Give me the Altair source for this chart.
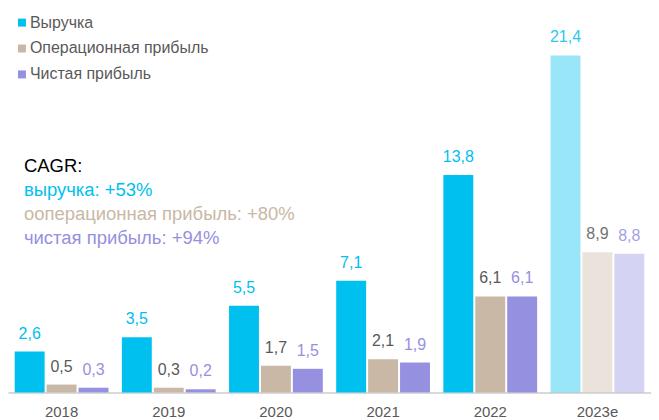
import altair as alt
import pandas as pd

years = ["2018", "2019", "2020", "2021", "2022", "2023e"]
series = ["Выручка", "Операционная прибыль", "Чистая прибыль"]
revenue = [2.6, 3.5, 5.5, 7.1, 13.8, 21.4]
op_profit = [0.5, 0.3, 1.7, 2.1, 6.1, 8.9]
net_profit = [0.3, 0.2, 1.5, 1.9, 6.1, 8.8]
cagr_lines = ["CAGR:", "выручка: +53%", "оопер\u0430ционная прибыль: +80%", "чистая прибыль: +94%"]
cagr_kind = ["title", "Выручка", "Операционная прибыль", "Чистая прибыль"]

bar_colors = ["#00C0F0", "#C9B8A5", "#9690E0"]
label_colors = ["#00C0F0", "#595959", "#9690E0"]

rows = []
for i, y in enumerate(years):
    for s, vals in zip(series, [revenue, op_profit, net_profit]):
        rows.append({"year": y, "series": s, "value": vals[i]})
df = pd.DataFrame(rows)

cagr_df = pd.DataFrame({"text": cagr_lines, "kind": cagr_kind, "idx": list(range(len(cagr_lines)))})

x_enc = alt.X("year:N", sort=years, title=None,
              scale=alt.Scale(paddingInner=0, paddingOuter=0),
              axis=alt.Axis(labelFontSize=15, labelColor="#595959", labelFont="Liberation Sans",
                            domainColor="#D9D9D9", domainWidth=2, ticks=False, labelPadding=12,
                            labelAngle=0))
xoff = alt.XOffset("series:N", sort=series,
                   scale=alt.Scale(paddingInner=0.0625, paddingOuter=0.21))
y_enc = alt.Y("value:Q", title=None, axis=None,
              scale=alt.Scale(domain=[0, 24.37], nice=False, zero=True))

base = alt.Chart(df)

bars = base.mark_bar().encode(
    x=x_enc, xOffset=xoff, y=y_enc,
    color=alt.Color("series:N", sort=series,
                    scale=alt.Scale(domain=series, range=bar_colors),
                    legend=alt.Legend(title=None, orient="none", legendX=6, legendY=6,
                                      symbolType="square", symbolSize=64, symbolStrokeWidth=0,
                                      labelFontSize=16, labelColor="#595959",
                                      labelFont="Liberation Sans", rowPadding=10,
                                      labelOffset=0, labelLimit=0, padding=0)),
    opacity=alt.condition("datum.year == '2023e'", alt.value(0.4), alt.value(1.0)),
)

labels = base.transform_calculate(
    label="replace(format(datum.value, '.1f'), '.', ',')"
).mark_text(fontSize=16, font="Liberation Sans", baseline="alphabetic", dy=-13).encode(
    x=x_enc, xOffset=xoff, y=y_enc,
    text="label:N",
    color=alt.Color("series:N", sort=series,
                    scale=alt.Scale(domain=series, range=label_colors), legend=None),
    opacity=alt.condition("datum.year == '2023e'", alt.value(0.85), alt.value(1.0)),
)

cagr = alt.Chart(cagr_df).mark_text(align="left", baseline="middle", fontSize=18.5,
                                    font="Liberation Sans").encode(
    x=alt.value(16),
    y=alt.Y("idx:Q", axis=None, scale=alt.Scale(domain=[0, 3], range=[158, 230], nice=False, zero=False)),
    text="text:N",
    color=alt.Color("kind:N", scale=alt.Scale(domain=["title"] + series,
                                              range=["#000000", "#00C0F0", "#C9B8A5", "#9690E0"]),
                    legend=None),
)

chart = alt.layer(bars, labels, cagr).resolve_scale(color="independent", y="independent").properties(
    width=645, height=385, padding={"left": 0, "top": 0, "right": 0, "bottom": 0}
).configure_view(stroke=None)

chart.save("out.html", embed_options={"renderer": "svg", "actions": False})
